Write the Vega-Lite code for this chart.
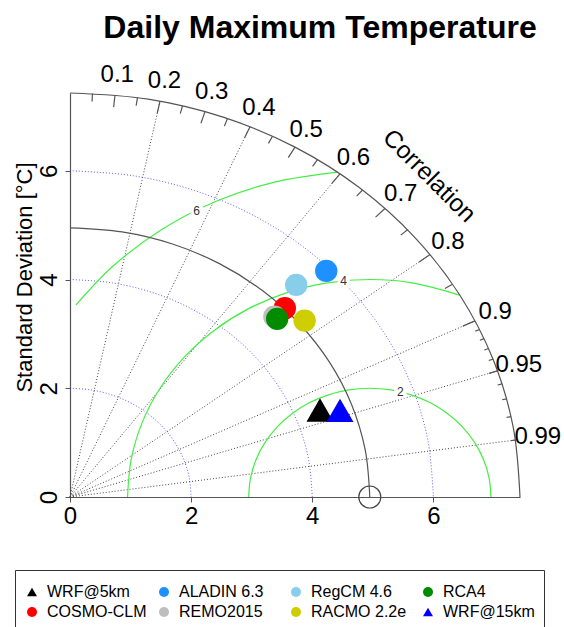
{
  "$schema": "https://vega.github.io/schema/vega-lite/v6.json",
  "width": 450,
  "height": 404,
  "autosize": {"type": "none"},
  "padding": {"left": 70, "top": 93, "right": 44, "bottom": 130},
  "background": "white",
  "config": {
    "font": "Liberation Sans",
    "view": {"stroke": null},
    "axis": {"labelFont": "Liberation Sans", "titleFont": "Liberation Sans"}
  },
  "title": {
    "text": "Daily Maximum Temperature",
    "fontSize": 32,
    "fontWeight": "bold",
    "font": "Liberation Sans",
    "color": "black",
    "anchor": "middle",
    "frame": "group",
    "dx": 25,
    "offset": 18
  },
  "datasets": {
    "solidArcs": [
      {"arc": "outer", "x": 7.43, "y": 0}, {"arc": "outer", "x": 7.317, "y": 1.29}, {"arc": "outer", "x": 6.982, "y": 2.541},
      {"arc": "outer", "x": 6.435, "y": 3.715}, {"arc": "outer", "x": 5.692, "y": 4.776}, {"arc": "outer", "x": 4.776, "y": 5.692},
      {"arc": "outer", "x": 3.715, "y": 6.435}, {"arc": "outer", "x": 2.541, "y": 6.982}, {"arc": "outer", "x": 1.29, "y": 7.317},
      {"arc": "outer", "x": 0, "y": 7.43},
      {"arc": "ref", "x": 4.95, "y": 0}, {"arc": "ref", "x": 4.875, "y": 0.86}, {"arc": "ref", "x": 4.652, "y": 1.693},
      {"arc": "ref", "x": 4.287, "y": 2.475}, {"arc": "ref", "x": 3.792, "y": 3.182}, {"arc": "ref", "x": 3.182, "y": 3.792},
      {"arc": "ref", "x": 2.475, "y": 4.287}, {"arc": "ref", "x": 1.693, "y": 4.652}, {"arc": "ref", "x": 0.86, "y": 4.875},
      {"arc": "ref", "x": 0, "y": 4.95}
    ],
    "sdArcs": [
      {"r": 2, "x": 2, "y": 0}, {"r": 2, "x": 1.97, "y": 0.347}, {"r": 2, "x": 1.879, "y": 0.684}, {"r": 2, "x": 1.732, "y": 1},
      {"r": 2, "x": 1.532, "y": 1.286}, {"r": 2, "x": 1.286, "y": 1.532}, {"r": 2, "x": 1, "y": 1.732}, {"r": 2, "x": 0.684, "y": 1.879},
      {"r": 2, "x": 0.347, "y": 1.97}, {"r": 2, "x": 0, "y": 2},
      {"r": 4, "x": 4, "y": 0}, {"r": 4, "x": 3.939, "y": 0.695}, {"r": 4, "x": 3.759, "y": 1.368}, {"r": 4, "x": 3.464, "y": 2},
      {"r": 4, "x": 3.064, "y": 2.571}, {"r": 4, "x": 2.571, "y": 3.064}, {"r": 4, "x": 2, "y": 3.464}, {"r": 4, "x": 1.368, "y": 3.759},
      {"r": 4, "x": 0.695, "y": 3.939}, {"r": 4, "x": 0, "y": 4},
      {"r": 6, "x": 6, "y": 0}, {"r": 6, "x": 5.909, "y": 1.042}, {"r": 6, "x": 5.638, "y": 2.052}, {"r": 6, "x": 5.196, "y": 3},
      {"r": 6, "x": 4.596, "y": 3.857}, {"r": 6, "x": 3.857, "y": 4.596}, {"r": 6, "x": 3, "y": 5.196}, {"r": 6, "x": 2.052, "y": 5.638},
      {"r": 6, "x": 1.042, "y": 5.909}, {"r": 6, "x": 0, "y": 6}
    ],
    "gamma": [
      {"g": 2, "x": 6.95, "y": 0}, {"g": 2, "x": 6.92, "y": 0.347}, {"g": 2, "x": 6.829, "y": 0.684}, {"g": 2, "x": 6.682, "y": 1},
      {"g": 2, "x": 6.482, "y": 1.286}, {"g": 2, "x": 6.236, "y": 1.532}, {"g": 2, "x": 5.95, "y": 1.732}, {"g": 2, "x": 5.634, "y": 1.879},
      {"g": 2, "x": 5.297, "y": 1.97}, {"g": 2, "x": 4.95, "y": 2}, {"g": 2, "x": 4.603, "y": 1.97}, {"g": 2, "x": 4.266, "y": 1.879},
      {"g": 2, "x": 3.95, "y": 1.732}, {"g": 2, "x": 3.664, "y": 1.532}, {"g": 2, "x": 3.418, "y": 1.286}, {"g": 2, "x": 3.218, "y": 1},
      {"g": 2, "x": 3.071, "y": 0.684}, {"g": 2, "x": 2.98, "y": 0.347}, {"g": 2, "x": 2.95, "y": 0},
      {"g": 4, "x": 6.434, "y": 3.714}, {"g": 4, "x": 5.645, "y": 3.939}, {"g": 4, "x": 4.95, "y": 4}, {"g": 4, "x": 4.255, "y": 3.939},
      {"g": 4, "x": 3.582, "y": 3.759}, {"g": 4, "x": 2.95, "y": 3.464}, {"g": 4, "x": 2.379, "y": 3.064}, {"g": 4, "x": 1.886, "y": 2.571},
      {"g": 4, "x": 1.486, "y": 2}, {"g": 4, "x": 1.191, "y": 1.368}, {"g": 4, "x": 1.011, "y": 0.695}, {"g": 4, "x": 0.95, "y": 0},
      {"g": 6, "x": 4.415, "y": 5.976}, {"g": 6, "x": 3.397, "y": 5.796}, {"g": 6, "x": 2.414, "y": 5.438}, {"g": 6, "x": 1.509, "y": 4.915},
      {"g": 6, "x": 0.707, "y": 4.243}, {"g": 6, "x": 0.096, "y": 3.527}
    ],
    "corrLines": [
      {"c": "0.2", "x": 0, "y": 0}, {"c": "0.2", "x": 1.486, "y": 7.28},
      {"c": "0.4", "x": 0, "y": 0}, {"c": "0.4", "x": 2.972, "y": 6.81},
      {"c": "0.6", "x": 0, "y": 0}, {"c": "0.6", "x": 4.458, "y": 5.944},
      {"c": "0.8", "x": 0, "y": 0}, {"c": "0.8", "x": 5.944, "y": 4.458},
      {"c": "0.9", "x": 0, "y": 0}, {"c": "0.9", "x": 6.687, "y": 3.239},
      {"c": "0.95", "x": 0, "y": 0}, {"c": "0.95", "x": 7.059, "y": 2.32},
      {"c": "0.99", "x": 0, "y": 0}, {"c": "0.99", "x": 7.356, "y": 1.048}
    ],
    "tickSegs": [
      {"x": 0.743, "y": 7.393, "xe": 0.721, "ye": 7.171}, {"x": 1.486, "y": 7.28, "xe": 1.441, "ye": 7.062},
      {"x": 2.229, "y": 7.088, "xe": 2.162, "ye": 6.875}, {"x": 2.972, "y": 6.81, "xe": 2.883, "ye": 6.605},
      {"x": 3.715, "y": 6.435, "xe": 3.604, "ye": 6.242}, {"x": 4.458, "y": 5.944, "xe": 4.324, "ye": 5.766},
      {"x": 5.201, "y": 5.306, "xe": 5.045, "ye": 5.147}, {"x": 5.944, "y": 4.458, "xe": 5.766, "ye": 4.324},
      {"x": 6.687, "y": 3.239, "xe": 6.486, "ye": 3.142},
      {"x": 0.3715, "y": 7.421, "xe": 0.3641, "ye": 7.272}, {"x": 1.1145, "y": 7.346, "xe": 1.0922, "ye": 7.199},
      {"x": 1.8575, "y": 7.194, "xe": 1.8204, "ye": 7.05}, {"x": 2.6005, "y": 6.96, "xe": 2.5485, "ye": 6.821},
      {"x": 3.3435, "y": 6.635, "xe": 3.2766, "ye": 6.503}, {"x": 4.0865, "y": 6.205, "xe": 4.0048, "ye": 6.081},
      {"x": 4.8295, "y": 5.646, "xe": 4.7329, "ye": 5.533}, {"x": 5.5725, "y": 4.914, "xe": 5.4611, "ye": 4.816},
      {"x": 6.3155, "y": 3.914, "xe": 6.1892, "ye": 3.836}, {"x": 7.0585, "y": 2.32, "xe": 6.9173, "ye": 2.274},
      {"x": 6.761, "y": 3.081, "xe": 6.694, "ye": 3.05}, {"x": 6.836, "y": 2.912, "xe": 6.767, "ye": 2.883},
      {"x": 6.91, "y": 2.731, "xe": 6.841, "ye": 2.704}, {"x": 6.984, "y": 2.535, "xe": 6.914, "ye": 2.51},
      {"x": 7.133, "y": 2.08, "xe": 7.061, "ye": 2.06}, {"x": 7.207, "y": 1.806, "xe": 7.135, "ye": 1.788},
      {"x": 7.281, "y": 1.479, "xe": 7.209, "ye": 1.464}, {"x": 7.356, "y": 1.048, "xe": 7.282, "ye": 1.038}
    ],
    "corrLabels": [
      {"label": "0.1", "x": 0.78, "y": 7.762}, {"label": "0.2", "x": 1.56, "y": 7.644}, {"label": "0.3", "x": 2.34, "y": 7.442},
      {"label": "0.4", "x": 3.121, "y": 7.15}, {"label": "0.5", "x": 3.901, "y": 6.756}, {"label": "0.6", "x": 4.681, "y": 6.241},
      {"label": "0.7", "x": 5.461, "y": 5.571}, {"label": "0.8", "x": 6.241, "y": 4.681}, {"label": "0.9", "x": 7.021, "y": 3.401},
      {"label": "0.95", "x": 7.411, "y": 2.436}, {"label": "0.99", "x": 7.723, "y": 1.101}
    ],
    "corrTitle": [{"label": "Correlation", "x": 5.923, "y": 5.897}],
    "gammaLabels": [
      {"label": "2", "x": 5.454, "y": 1.926}, {"label": "4", "x": 4.519, "y": 3.967}, {"label": "6", "x": 2.092, "y": 5.254}
    ],
    "refPoint": [{"x": 4.95, "y": 0}],
    "models": [
      {"model": "WRF@5km", "x": 4.128, "y": 1.599},
      {"model": "COSMO-CLM", "x": 3.547, "y": 3.471},
      {"model": "ALADIN 6.3", "x": 4.231, "y": 4.158},
      {"model": "REMO2015", "x": 3.374, "y": 3.318},
      {"model": "RegCM 4.6", "x": 3.735, "y": 3.901},
      {"model": "RACMO 2.2e", "x": 3.874, "y": 3.244},
      {"model": "RCA4", "x": 3.421, "y": 3.276},
      {"model": "WRF@15km", "x": 4.458, "y": 1.594}
    ]
  },
  "encoding": {
    "x": {
      "field": "x", "type": "quantitative",
      "scale": {"domain": [0, 7.43], "nice": false, "zero": false},
      "axis": {
        "values": [0, 2, 4, 6], "title": null, "grid": false,
        "labelFontSize": 24, "labelColor": "black", "labelPadding": 2,
        "labelFlush": false, "labelOverlap": false,
        "tickColor": "#555", "tickSize": 5, "domainColor": "#555", "domainWidth": 1.2
      }
    },
    "y": {
      "field": "y", "type": "quantitative",
      "scale": {"domain": [0, 7.43], "nice": false, "zero": false},
      "axis": {
        "values": [0, 2, 4, 6], "title": "Standard Deviation [°C]", "grid": false,
        "labelFontSize": 24, "labelColor": "black", "labelAngle": 270,
        "labelAlign": "center", "labelBaseline": "alphabetic", "labelPadding": 9,
        "labelFlush": false, "labelOverlap": false,
        "tickColor": "#555", "tickSize": 5, "domainColor": "#555", "domainWidth": 1.2,
        "titleFontSize": 22, "titleFontWeight": "normal", "titleColor": "black",
        "titleAngle": 270, "titleAlign": "center", "titleBaseline": "middle",
        "titleX": -46, "titleY": 184
      }
    }
  },
  "layer": [
    {
      "data": {"name": "sdArcs"},
      "mark": {"type": "line", "interpolate": "catmull-rom", "color": "#3333ff", "strokeWidth": 1, "strokeDash": [1, 2], "opacity": 0.8},
      "encoding": {"detail": {"field": "r", "type": "nominal"}}
    },
    {
      "data": {"name": "corrLines"},
      "mark": {"type": "line", "color": "#444", "strokeWidth": 1, "strokeDash": [1, 2]},
      "encoding": {"detail": {"field": "c", "type": "nominal"}}
    },
    {
      "data": {"name": "gamma"},
      "mark": {"type": "line", "interpolate": "catmull-rom", "color": "#44ee44", "strokeWidth": 1.2},
      "encoding": {"detail": {"field": "g", "type": "nominal"}}
    },
    {
      "data": {"name": "solidArcs"},
      "mark": {"type": "line", "interpolate": "catmull-rom", "color": "#555", "strokeWidth": 1.2},
      "encoding": {"detail": {"field": "arc", "type": "nominal"}}
    },
    {
      "data": {"name": "tickSegs"},
      "mark": {"type": "rule", "color": "#555", "strokeWidth": 1.2},
      "encoding": {"x2": {"field": "xe"}, "y2": {"field": "ye"}}
    },
    {
      "data": {"name": "gammaLabels"},
      "mark": {"type": "point", "shape": "square", "filled": true, "color": "white", "opacity": 1, "size": 150}
    },
    {
      "data": {"name": "gammaLabels"},
      "mark": {"type": "text", "fontSize": 12, "color": "#333", "align": "center", "baseline": "middle"},
      "encoding": {"text": {"field": "label", "type": "nominal"}}
    },
    {
      "data": {"name": "corrLabels"},
      "mark": {"type": "text", "fontSize": 24, "color": "black", "align": "center", "baseline": "middle"},
      "encoding": {"text": {"field": "label", "type": "nominal"}}
    },
    {
      "data": {"name": "corrTitle"},
      "mark": {"type": "text", "fontSize": 24.5, "color": "black", "align": "center", "baseline": "middle", "angle": 45},
      "encoding": {"text": {"field": "label", "type": "nominal"}}
    },
    {
      "data": {"name": "refPoint"},
      "mark": {"type": "point", "shape": "circle", "filled": false, "color": "#444", "strokeWidth": 1.2, "size": 484, "opacity": 1}
    },
    {
      "data": {"name": "models"},
      "transform": [{"filter": "datum.model !== 'WRF@5km' && datum.model !== 'WRF@15km'"}],
      "mark": {"type": "point", "filled": true, "opacity": 1, "size": 500},
      "encoding": {
        "color": {
          "field": "model", "type": "nominal", "title": " ",
          "scale": {
            "domain": ["WRF@5km", "ALADIN 6.3", "RegCM 4.6", "RCA4", "COSMO-CLM", "REMO2015", "RACMO 2.2e", "WRF@15km"],
            "range": ["#000000", "#1E90FF", "#87CEEB", "#008B00", "#FF0000", "#BEBEBE", "#CDCD00", "#0000FF"]
          },
          "legend": {
            "orient": "none", "legendX": -55, "legendY": 477, "columns": 4, "direction": "horizontal",
            "gridAlign": "all", "columnPadding": 9, "rowPadding": 4,
            "padding": 9, "strokeColor": "#333", "fillColor": "white",
            "titleFontSize": 1, "titlePadding": 4,
            "labelFontSize": 16, "labelColor": "black", "labelFont": "Liberation Sans", "labelOffset": 7,
            "symbolSize": 100, "labelLimit": 200
          }
        },
        "shape": {
          "field": "model", "type": "nominal", "title": " ",
          "scale": {
            "domain": ["WRF@5km", "ALADIN 6.3", "RegCM 4.6", "RCA4", "COSMO-CLM", "REMO2015", "RACMO 2.2e", "WRF@15km"],
            "range": ["triangle-up", "circle", "circle", "circle", "circle", "circle", "circle", "triangle-up"]
          }
        }
      }
    },
    {
      "data": {"name": "models"},
      "transform": [{"filter": "datum.model === 'WRF@5km' || datum.model === 'WRF@15km'"}],
      "mark": {"type": "point", "filled": true, "opacity": 1, "size": 730},
      "encoding": {
        "color": {"field": "model", "type": "nominal", "title": " "},
        "shape": {"field": "model", "type": "nominal", "title": " "}
      }
    }
  ]
}
